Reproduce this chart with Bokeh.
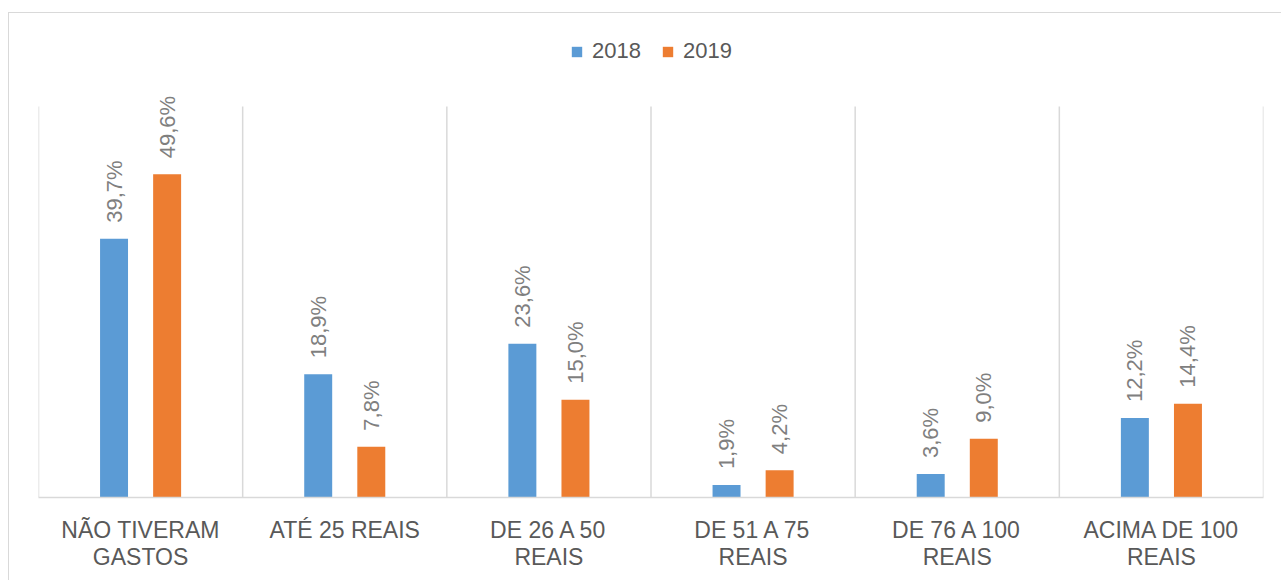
import math
from bokeh.plotting import figure
from bokeh.models import ColumnDataSource, FactorRange, Legend, LegendItem
from bokeh.transform import dodge
from bokeh.core.properties import value
from bokeh.embed import file_html
from bokeh.resources import INLINE

categories = ["NÃO TIVERAM\nGASTOS", "ATÉ 25 REAIS", "DE 26 A 50\nREAIS",
              "DE 51 A 75\nREAIS", "DE 76 A 100\nREAIS", "ACIMA DE 100\nREAIS"]
v2018 = [39.7, 18.9, 23.6, 1.9, 3.6, 12.2]
v2019 = [49.6, 7.8, 15.0, 4.2, 9.0, 14.4]
series = ["2018", "2019"]
colors = ["#5B9BD5", "#ED7D31"]
axis_max = 60

def fmt(v):
    return f"{v:.1f}".replace(".", ",") + "%"

src = ColumnDataSource(dict(
    cat=categories, v2018=v2018, v2019=v2019,
    l2018=[fmt(v) for v in v2018], l2019=[fmt(v) for v in v2019],
    zero=[0] * len(categories), top=[axis_max] * len(categories),
))

FONT = "Liberation Sans"

p = figure(x_range=FactorRange(*categories), y_range=(0, 71.66),
           width=1273, height=568, output_backend="svg", toolbar_location=None,
           min_border_left=29, min_border_right=19, min_border_top=17, min_border_bottom=84)
p.styles = {"border-left": "1px solid #d9d9d9", "border-top": "1px solid #d9d9d9",
            "margin-top": "12px", "margin-left": "8px"}
p.outline_line_color = None
p.xgrid.visible = False
p.ygrid.visible = False
p.yaxis.visible = False

# vertical category separators (from 0 to axis max)
grid_kw = dict(y0="zero", y1="top", source=src, line_color="#d9d9d9", line_width=1.5)
p.segment(x0=dodge("cat", -0.5, range=p.x_range), x1=dodge("cat", -0.5, range=p.x_range), **grid_kw)
last = ColumnDataSource(dict(cat=[categories[-1]], zero=[0], top=[axis_max]))
p.segment(x0=dodge("cat", 0.5, range=p.x_range), x1=dodge("cat", 0.5, range=p.x_range),
          y0="zero", y1="top", source=last, line_color="#d9d9d9", line_width=1.5)

renderers = []
for name, col, off in zip(series, colors, [-0.13, 0.13]):
    r = p.vbar(x=dodge("cat", off, range=p.x_range), top="v" + name, width=0.137,
               source=src, fill_color=col, line_color=None)
    renderers.append(r)
    p.text(x=dodge("cat", off, range=p.x_range), y="v" + name, text="l" + name,
           source=src, angle=math.pi / 2, text_align="left", text_baseline="middle",
           y_offset=-16, text_font=value(FONT), text_font_size="22px", text_color="#7f7f7f")

ax = p.xaxis[0]
ax.axis_line_color = "#d9d9d9"
ax.axis_line_width = 1.5
ax.major_tick_line_color = None
ax.minor_tick_line_color = None
ax.major_label_text_font = FONT
ax.major_label_text_font_size = "23px"
ax.major_label_text_color = "#595959"
ax.major_label_text_line_height = 1.05
ax.major_label_standoff = 13

legend = Legend(items=[LegendItem(label=s, renderers=[r]) for s, r in zip(series, renderers)],
                orientation="horizontal", location=(532, 433),
                glyph_width=13, glyph_height=13, label_standoff=9, spacing=20,
                padding=0, margin=0, border_line_color=None, background_fill_alpha=0,
                label_text_font=FONT, label_text_font_size="22px", label_text_color="#595959",
                label_height=26)
p.add_layout(legend, "center")

open("out.html", "w").write(file_html(p, INLINE))
